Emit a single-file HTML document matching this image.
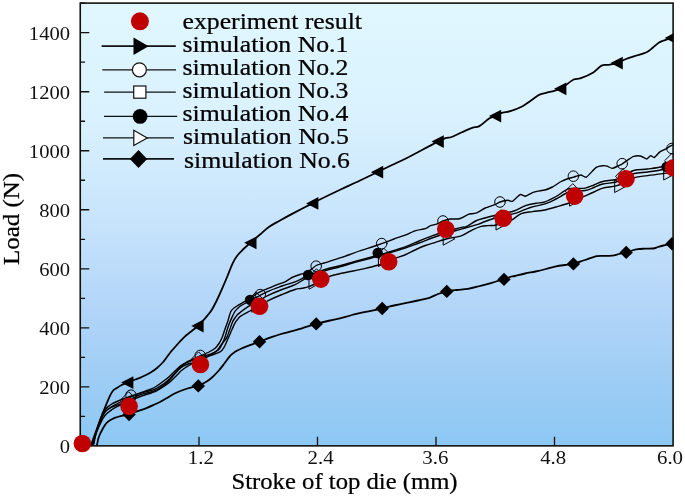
<!DOCTYPE html>
<html lang="en"><head><meta charset="utf-8"><title>Load vs stroke of top die</title>
<style>html,body{margin:0;padding:0;background:#fff}body{width:685px;height:497px;overflow:hidden}svg{display:block;will-change:transform}text{font-family:"Liberation Serif","DejaVu Serif",serif;fill:#000;stroke:#000;stroke-width:0.25px}</style></head><body>
<svg width="685" height="497" viewBox="0 0 685 497">
<defs><linearGradient id="bg" x1="0" y1="0" x2="0" y2="1">
<stop offset="0" stop-color="#e0f7ff"/>
<stop offset="0.253" stop-color="#daf2fe"/>
<stop offset="0.49" stop-color="#c8e4fc"/>
<stop offset="0.704" stop-color="#b0d4f8"/>
<stop offset="0.896" stop-color="#98cbf4"/>
<stop offset="1" stop-color="#8cc8f4"/>
</linearGradient>
<clipPath id="cp"><rect x="80.25" y="3.1" width="593.45" height="445.75"/></clipPath></defs>
<rect width="685" height="497" fill="#fff"/>
<rect x="80.25" y="3.1" width="592.85" height="442.75" fill="url(#bg)"/>
<path d="M80.25,445.85h9.0M80.25,416.34h4.8M80.25,386.83h9.0M80.25,357.32h4.8M80.25,327.81h9.0M80.25,298.30h4.8M80.25,268.79h9.0M80.25,239.28h4.8M80.25,209.77h9.0M80.25,180.26h4.8M80.25,150.75h9.0M80.25,121.24h4.8M80.25,91.73h9.0M80.25,62.22h4.8M80.25,32.71h9.0M80.25,3.20h4.8M199.00,445.85v-9.0M317.50,445.85v-9.0M436.00,445.85v-9.0M554.50,445.85v-9.0" stroke="#111" stroke-width="1.3" fill="none"/>
<g clip-path="url(#cp)" fill="none" stroke="#000" stroke-linejoin="round" stroke-linecap="round">
<path d="M96.9,445.3C97.2,443.8 97.9,439.4 99.0,436.5C100.1,433.6 102.0,430.1 103.3,427.8C104.5,425.6 105.4,424.2 106.5,423.0C107.6,421.8 108.6,421.2 110.0,420.3C111.4,419.4 112.8,418.6 114.7,417.8C116.7,417.1 119.4,416.4 121.7,415.8C124.0,415.2 126.6,414.9 128.7,414.3C130.8,413.7 132.0,413.1 134.0,412.4C136.0,411.7 138.6,411.0 140.8,410.2C143.0,409.4 144.8,408.7 147.0,407.8C149.2,406.9 151.8,405.7 154.0,404.7C156.2,403.7 157.8,403.1 160.0,402.0C162.2,400.9 164.5,399.5 167.0,398.0C169.5,396.5 172.5,394.5 175.2,393.2C177.9,391.9 180.3,391.0 183.0,390.0C185.7,389.0 188.9,388.1 191.5,387.4C194.1,386.7 195.8,386.9 198.3,385.9C200.8,384.9 204.4,382.9 206.7,381.5C209.0,380.1 210.1,379.2 212.0,377.5C213.9,375.8 216.4,373.2 218.4,371.0C220.4,368.8 222.1,366.5 224.0,364.0C225.9,361.5 228.2,357.9 230.1,355.8C232.0,353.7 233.7,352.8 235.5,351.6C237.3,350.4 238.8,349.8 241.0,348.8C243.2,347.8 245.6,346.9 248.7,345.7C251.8,344.5 255.6,343.2 259.5,341.7C263.4,340.2 268.6,338.2 272.2,336.9C275.8,335.6 278.0,334.9 281.0,334.0C284.0,333.1 286.5,332.6 290.0,331.7C293.5,330.8 297.6,329.6 302.0,328.3C306.4,327.0 311.5,325.2 316.2,323.9C320.9,322.6 326.0,321.4 330.0,320.5C334.0,319.6 336.3,319.2 340.0,318.3C343.7,317.4 347.8,316.1 352.0,315.0C356.2,313.9 360.5,313.0 365.5,311.9C370.5,310.8 377.4,309.6 382.2,308.5C386.9,307.4 390.0,306.4 394.0,305.5C398.0,304.6 402.4,303.7 406.4,302.9C410.4,302.1 414.2,301.4 418.0,300.5C421.8,299.6 426.1,298.9 429.4,297.8C432.7,296.7 435.1,295.1 438.0,294.0C440.9,292.9 443.6,292.1 446.8,291.4C450.0,290.7 453.5,290.4 457.0,290.0C460.5,289.6 464.3,289.5 467.8,288.9C471.3,288.3 474.6,287.4 478.0,286.5C481.4,285.6 485.2,284.6 488.2,283.8C491.2,283.0 493.4,282.2 496.0,281.5C498.6,280.8 501.7,280.1 504.0,279.4C506.3,278.6 508.2,277.6 510.0,277.0C511.8,276.4 512.5,276.6 515.0,276.0C517.5,275.4 521.6,274.2 525.0,273.5C528.4,272.8 532.0,272.2 535.5,271.5C539.0,270.8 542.6,269.9 546.0,269.0C549.4,268.1 552.8,267.1 556.0,266.4C559.2,265.7 562.1,265.4 565.0,265.0C567.9,264.6 570.1,264.7 573.4,263.9C576.7,263.1 581.1,261.3 585.0,260.0C588.9,258.7 593.7,256.9 596.9,256.2C600.1,255.5 601.5,255.9 604.0,255.8C606.5,255.7 609.7,256.0 612.2,255.7C614.7,255.4 616.7,254.6 619.0,254.0C621.3,253.4 624.0,253.0 626.2,252.4C628.4,251.8 630.1,251.1 632.0,250.5C633.9,249.9 635.6,249.4 637.8,249.1C640.0,248.8 642.5,248.8 645.0,248.7C647.5,248.6 650.9,248.8 653.1,248.5C655.3,248.2 656.3,247.5 658.0,247.0C659.7,246.5 661.6,245.9 663.3,245.5C665.0,245.1 666.5,244.7 668.0,244.3C669.5,244.0 671.8,243.6 672.5,243.4" stroke-width="1.8"/>
<path d="M91.4,444.2C92.0,442.5 93.8,437.2 95.0,434.0C96.2,430.8 97.2,428.1 98.4,424.9C99.6,421.7 100.7,418.5 102.0,415.0C103.3,411.5 105.3,406.8 106.5,403.9C107.7,400.9 108.3,399.4 109.3,397.3C110.3,395.2 111.4,392.7 112.6,391.2C113.8,389.7 115.0,389.2 116.5,388.2C118.0,387.2 119.9,385.9 121.7,385.0C123.5,384.1 125.4,383.4 127.4,382.6C129.5,381.8 131.8,380.8 134.0,380.0C136.2,379.2 138.4,378.4 140.4,377.6C142.4,376.8 144.2,375.9 146.0,375.0C147.8,374.1 149.2,373.5 151.0,372.3C152.8,371.1 155.1,369.6 157.0,368.0C158.9,366.4 161.0,364.3 162.7,362.5C164.4,360.7 165.5,358.9 167.0,357.0C168.5,355.1 170.0,352.8 171.5,351.0C173.0,349.2 174.5,347.6 176.0,346.0C177.5,344.4 178.6,342.9 180.3,341.1C182.0,339.4 184.1,337.1 186.0,335.5C187.9,333.9 189.3,332.9 191.5,331.2C193.7,329.4 196.8,327.1 199.0,325.0C201.2,322.9 203.0,320.8 205.0,318.5C207.0,316.2 209.1,314.0 211.0,311.1C212.9,308.2 214.7,304.6 216.5,301.0C218.3,297.4 220.1,293.4 221.9,289.2C223.7,285.0 225.7,280.4 227.5,276.0C229.3,271.6 231.3,266.2 232.9,262.9C234.5,259.6 235.5,258.0 237.0,256.0C238.5,254.0 239.4,253.0 241.7,250.8C243.9,248.6 247.4,245.5 250.5,242.8C253.6,240.1 256.9,237.2 260.0,234.5C263.1,231.8 265.9,229.1 269.2,226.8C272.5,224.5 276.1,222.7 280.0,220.5C283.9,218.3 287.2,216.4 292.6,213.6C298.0,210.8 306.7,206.3 312.4,203.4C318.1,200.5 322.0,198.4 327.0,196.0C332.0,193.6 336.7,191.4 342.2,188.8C347.7,186.2 354.2,183.3 360.0,180.5C365.8,177.7 371.9,174.8 377.2,172.2C382.5,169.6 387.1,167.3 392.0,165.0C396.9,162.7 401.4,160.7 406.4,158.2C411.4,155.7 416.8,152.8 422.0,150.0C427.2,147.2 433.9,143.6 437.8,141.6C441.7,139.6 443.2,139.0 445.5,138.2C447.8,137.4 448.9,138.0 451.7,137.0C454.4,136.0 458.6,133.8 462.0,132.3C465.4,130.8 469.3,128.8 472.2,127.8C475.1,126.8 476.6,127.6 479.4,126.1C482.1,124.6 486.1,120.5 488.7,118.8C491.3,117.1 493.1,117.0 495.2,116.1C497.2,115.2 498.3,114.1 501.0,113.2C503.7,112.3 507.8,112.0 511.2,110.9C514.6,109.8 518.1,108.6 521.5,106.8C524.9,105.0 528.9,102.0 531.8,100.0C534.7,98.0 536.6,96.1 539.0,94.9C541.4,93.7 543.5,93.6 546.1,92.9C548.7,92.2 552.0,91.5 554.4,90.8C556.8,90.1 558.5,89.7 560.4,88.8C562.2,87.9 563.3,86.8 565.5,85.3C567.7,83.8 571.1,80.7 573.7,79.5C576.3,78.3 577.6,79.3 580.9,78.1C584.2,76.9 589.9,74.5 593.3,72.4C596.7,70.3 599.0,66.9 601.5,65.6C604.0,64.3 606.1,65.2 608.6,64.8C611.1,64.4 613.9,64.1 616.8,63.1C619.7,62.1 623.0,60.2 626.1,59.0C629.2,57.8 631.9,57.0 635.3,55.9C638.7,54.8 643.7,53.6 646.6,52.2C649.5,50.8 650.7,49.3 652.8,47.7C654.9,46.1 657.0,43.9 659.0,42.6C661.0,41.3 662.9,40.9 665.1,40.1C667.4,39.3 671.3,38.4 672.5,38.0" stroke-width="1.8"/>
<path d="M92.0,444.0C92.4,442.8 95.1,434.7 96.0,432.0C96.9,429.3 100.5,418.9 101.3,416.8C102.1,414.7 103.5,411.9 104.0,411.0C104.5,410.1 105.9,408.5 106.5,407.9C107.1,407.3 109.3,405.8 110.0,405.3C110.7,404.8 112.4,403.6 113.6,403.0C114.8,402.4 120.1,400.1 121.7,399.5C123.3,398.9 128.0,397.2 129.9,396.5C131.8,395.8 138.4,393.5 140.4,392.8C142.4,392.1 148.4,390.1 150.0,389.5C151.6,388.9 154.7,387.3 156.0,386.5C157.3,385.7 161.7,382.5 163.0,381.5C164.3,380.5 168.1,377.6 169.3,376.5C170.5,375.4 173.9,372.1 175.0,371.0C176.1,369.9 179.2,366.9 180.3,366.0C181.4,365.1 184.9,363.1 186.0,362.5C187.1,361.9 190.1,360.6 191.5,360.0C192.9,359.4 198.2,356.8 200.0,356.0C201.8,355.2 207.5,352.8 209.0,352.0C210.5,351.2 214.4,348.9 215.4,348.0C216.4,347.1 218.3,344.5 219.0,343.5C219.7,342.5 221.4,339.2 222.0,337.8C222.6,336.4 224.4,330.7 225.0,329.0C225.6,327.3 227.3,322.6 227.9,320.9C228.5,319.1 230.2,312.8 230.8,311.5C231.4,310.2 233.2,308.6 234.0,308.0C234.8,307.4 237.0,305.9 238.4,305.1C239.8,304.3 245.7,301.1 247.7,299.9C249.7,298.7 256.1,294.1 258.2,292.9C260.3,291.7 266.8,289.0 268.7,288.2C270.6,287.4 275.2,285.4 276.8,284.8C278.4,284.2 283.6,282.5 285.1,281.8C286.6,281.1 290.5,278.2 292.0,277.5C293.5,276.8 298.4,275.0 300.0,274.5C301.6,274.0 305.9,273.2 307.5,272.3C309.1,271.4 314.6,266.4 316.2,265.5C317.8,264.6 322.5,263.5 324.0,263.0C325.5,262.5 330.0,261.2 331.6,260.7C333.2,260.2 338.2,258.5 340.0,257.9C341.8,257.3 347.8,255.3 350.0,254.5C352.2,253.7 359.7,250.9 361.9,250.2C364.1,249.4 370.0,247.7 372.0,247.0C374.0,246.3 379.5,244.4 381.7,243.6C383.9,242.8 391.6,239.9 394.0,239.0C396.4,238.1 403.7,235.6 405.8,234.8C407.9,234.0 413.1,231.4 415.0,230.8C416.9,230.2 423.8,229.2 425.3,228.7C426.8,228.2 429.3,226.2 430.4,225.7C431.5,225.2 435.3,224.6 436.6,224.1C437.9,223.6 441.7,221.5 443.0,221.0C444.3,220.5 448.4,219.2 449.9,219.0C451.4,218.8 456.8,219.2 458.1,219.0C459.4,218.8 461.8,217.8 462.8,217.3C463.8,216.8 467.0,214.8 468.4,214.4C469.8,214.0 474.9,213.4 476.6,212.8C478.3,212.2 483.4,208.8 485.3,208.0C487.2,207.2 494.0,205.0 495.5,204.4C497.0,203.8 498.8,202.4 500.0,202.0C501.2,201.6 506.6,200.4 507.9,200.3C509.1,200.2 511.3,201.9 512.5,201.3C513.7,200.7 518.9,195.1 520.2,194.6C521.5,194.1 524.1,196.4 525.3,196.2C526.5,196.0 531.3,193.1 532.5,192.6C533.7,192.1 535.8,191.7 537.0,191.4C538.2,191.1 543.5,190.4 545.0,190.0C546.5,189.6 550.8,187.8 552.4,187.0C554.0,186.2 559.6,182.3 561.1,181.5C562.6,180.7 565.8,179.4 567.0,179.0C568.2,178.6 572.2,177.5 573.6,177.1C575.0,176.7 579.6,175.0 580.9,175.0C582.2,175.0 584.9,177.9 586.4,177.1C587.9,176.3 594.6,168.4 596.2,167.3C597.9,166.2 601.8,165.8 602.9,165.7C604.0,165.6 606.3,165.9 607.2,166.2C608.1,166.5 611.1,168.4 612.1,168.4C613.1,168.4 616.0,167.0 617.0,166.5C618.0,166.0 621.2,164.4 622.3,163.8C623.3,163.2 626.4,160.9 627.5,160.2C628.6,159.5 632.3,156.8 633.7,156.4C635.1,156.0 639.9,155.9 641.2,156.2C642.5,156.5 645.9,159.1 646.8,159.0C647.7,158.9 649.9,155.8 650.6,155.6C651.4,155.4 653.4,157.9 654.3,157.5C655.2,157.1 658.8,152.7 659.9,151.9C661.0,151.1 664.0,149.9 664.9,149.4C665.8,148.9 668.2,147.3 669.0,146.8C669.8,146.3 672.6,145.0 673.0,144.8" stroke-width="1.4"/>
<path d="M92.6,444.0C93.2,442.0 94.6,436.6 96.1,432.2C97.6,427.8 100.2,421.0 101.6,417.8C103.0,414.5 103.6,413.9 104.5,412.5C105.5,411.2 106.1,410.7 107.2,409.8C108.2,409.0 109.5,408.2 110.7,407.4C111.9,406.7 112.4,406.2 114.4,405.2C116.3,404.2 119.7,402.5 122.3,401.2C124.9,399.9 127.2,398.7 130.2,397.3C133.2,396.0 137.2,394.3 140.6,393.2C143.9,392.1 147.7,391.5 150.4,390.7C153.1,389.9 154.4,389.5 156.6,388.3C158.9,387.2 161.5,385.3 163.8,383.7C166.0,382.1 168.0,380.3 170.0,378.5C171.9,376.6 173.7,374.3 175.5,372.4C177.3,370.5 178.8,368.4 180.6,366.8C182.4,365.3 184.3,364.0 186.2,362.9C188.0,361.9 189.3,361.4 191.7,360.5C194.0,359.5 197.3,358.2 200.4,357.2C203.5,356.1 207.2,355.2 210.1,354.1C213.0,352.9 216.1,351.6 218.0,350.2C219.9,348.8 220.3,347.6 221.4,345.5C222.5,343.4 223.7,340.9 224.8,337.8C225.9,334.7 226.9,330.2 228.0,327.0C229.1,323.8 230.2,321.2 231.4,318.6C232.6,316.0 233.7,313.4 234.9,311.5C236.1,309.6 237.2,308.7 238.5,307.5C239.8,306.3 240.2,306.1 243.0,304.5C245.8,302.9 250.7,300.2 255.0,298.0C259.3,295.8 264.2,293.1 268.7,291.1C273.2,289.1 277.6,287.6 282.0,286.0C286.4,284.4 290.8,283.5 295.0,281.8C299.2,280.1 302.5,278.1 307.5,276.0C312.5,273.9 319.6,271.2 325.0,269.5C330.4,267.8 335.0,267.0 340.0,265.7C345.0,264.4 349.9,262.9 355.0,261.5C360.1,260.1 365.2,258.8 370.7,257.3C376.2,255.8 382.1,254.1 388.0,252.3C393.9,250.5 400.6,248.5 405.8,246.6C411.0,244.7 414.6,242.8 419.0,241.0C423.4,239.2 427.8,237.4 432.0,235.9C436.2,234.4 440.0,233.2 444.0,232.0C448.0,230.8 453.0,229.5 456.1,228.7C459.2,227.9 461.1,227.4 462.8,227.1C464.5,226.8 464.0,227.8 466.3,226.7C468.6,225.6 473.5,221.9 476.6,220.5C479.7,219.1 481.9,218.9 485.0,218.0C488.1,217.1 492.2,216.0 495.5,215.2C498.8,214.4 501.9,213.7 505.0,213.0C508.1,212.3 510.4,212.3 514.0,211.0C517.5,209.7 522.6,206.7 526.3,205.4C530.0,204.1 532.9,203.9 536.0,203.3C539.1,202.7 541.7,202.9 545.0,201.8C548.3,200.7 552.2,198.6 556.0,196.5C559.8,194.4 564.4,190.5 567.7,189.2C571.0,187.9 573.1,188.7 576.0,188.5C578.9,188.3 582.3,188.7 585.3,188.1C588.3,187.5 591.1,186.1 594.0,185.0C596.9,183.9 599.1,182.4 602.8,181.5C606.5,180.6 612.3,180.4 616.0,179.3C619.7,178.2 621.9,176.5 625.0,175.0C628.1,173.5 630.6,171.3 634.4,170.3C638.2,169.3 643.2,169.6 647.6,169.0C652.0,168.4 657.5,167.8 660.7,167.0C663.9,166.2 665.0,165.0 667.0,164.0C669.0,163.0 671.6,161.5 672.5,161.0" stroke-width="1.4"/>
<path d="M93.2,444.0C93.7,442.1 94.8,436.8 96.2,432.5C97.6,428.1 100.3,421.2 101.7,417.9C103.1,414.6 103.6,413.9 104.5,412.5C105.5,411.2 106.1,410.6 107.2,409.8C108.2,409.0 109.6,408.4 110.8,407.7C112.1,407.1 112.6,406.7 114.6,406.0C116.7,405.2 120.3,404.2 123.0,403.1C125.7,402.0 127.9,400.7 130.9,399.3C133.9,397.8 137.6,395.6 141.0,394.4C144.3,393.2 148.2,392.7 150.9,392.0C153.6,391.2 154.9,391.0 157.2,389.8C159.4,388.7 162.1,386.8 164.2,385.0C166.4,383.3 168.4,381.3 170.3,379.3C172.2,377.3 173.9,374.9 175.7,373.0C177.4,371.0 179.0,369.0 180.9,367.6C182.7,366.2 184.8,365.3 186.7,364.5C188.6,363.7 190.0,363.6 192.5,362.8C194.9,362.0 198.3,360.9 201.3,359.6C204.3,358.3 207.8,356.4 210.5,354.8C213.2,353.2 215.9,351.5 217.6,349.9C219.4,348.2 219.4,347.1 220.9,345.1C222.4,343.1 225.2,340.3 226.6,337.8C228.0,335.3 228.6,332.6 229.6,330.0C230.6,327.4 231.6,324.1 232.5,322.0C233.4,319.9 234.3,318.9 235.3,317.5C236.3,316.1 236.3,315.7 238.4,313.9C240.5,312.1 244.4,309.0 247.7,306.9C251.0,304.8 254.5,302.9 258.0,301.0C261.5,299.1 264.7,297.1 268.7,295.2C272.7,293.3 277.6,291.2 282.0,289.5C286.4,287.8 290.8,286.7 295.0,284.7C299.2,282.7 302.5,279.8 307.5,277.5C312.5,275.2 319.6,272.6 325.0,270.8C330.4,269.0 335.0,268.2 340.0,266.8C345.0,265.4 349.9,263.8 355.0,262.4C360.1,261.0 365.2,259.7 370.7,258.2C376.2,256.7 382.1,255.0 388.0,253.3C393.9,251.6 400.6,249.5 405.8,247.8C411.0,246.1 414.6,244.6 419.0,243.0C423.4,241.4 427.8,239.5 432.0,238.0C436.2,236.5 440.0,235.2 444.0,234.0C448.0,232.8 452.0,231.6 456.1,230.5C460.2,229.4 464.6,228.3 468.4,227.2C472.2,226.1 475.9,225.0 478.7,224.1C481.5,223.2 482.2,222.5 485.0,221.5C487.8,220.5 492.2,219.0 495.5,218.0C498.8,217.0 501.6,216.3 505.0,215.5C508.4,214.7 511.8,214.4 516.0,213.1C520.2,211.8 525.6,209.0 530.4,207.5C535.2,206.0 540.7,205.3 545.0,203.9C549.3,202.5 552.2,200.9 556.0,199.0C559.8,197.1 564.4,193.8 567.7,192.5C571.0,191.2 573.1,191.6 576.0,191.3C578.9,191.0 582.3,191.1 585.3,190.5C588.3,189.9 591.1,188.6 594.0,187.5C596.9,186.4 599.1,184.9 602.8,184.0C606.5,183.1 612.3,183.0 616.0,182.0C619.7,181.0 621.9,179.4 625.0,178.0C628.1,176.6 630.6,174.5 634.4,173.5C638.2,172.5 643.2,172.6 647.6,172.0C652.0,171.4 656.6,171.0 660.7,170.0C664.9,169.0 670.5,166.7 672.5,166.0" stroke-width="1.4"/>
<path d="M93.8,444.0C94.2,442.2 94.9,437.0 96.3,433.0C97.8,428.9 100.8,422.7 102.3,419.7C103.8,416.7 104.5,416.2 105.4,415.0C106.4,413.8 107.0,413.3 108.1,412.4C109.1,411.5 110.4,410.7 111.6,409.9C112.8,409.1 113.3,408.6 115.2,407.6C117.1,406.6 120.5,405.0 123.2,403.7C125.8,402.5 128.1,401.4 131.2,400.1C134.2,398.9 138.2,397.2 141.5,396.0C144.9,394.8 148.6,393.9 151.2,393.0C153.9,392.0 155.1,391.6 157.4,390.4C159.6,389.2 162.3,387.4 164.5,385.9C166.8,384.3 168.9,382.8 170.9,381.1C172.9,379.4 174.8,377.3 176.6,375.5C178.4,373.7 180.0,371.8 181.8,370.3C183.6,368.8 185.5,367.5 187.4,366.4C189.2,365.3 190.4,364.7 192.7,363.5C195.0,362.3 198.1,360.6 201.1,359.2C204.1,357.9 207.7,356.7 210.8,355.4C214.0,354.2 217.8,353.2 220.0,351.9C222.2,350.6 222.5,350.0 223.9,347.6C225.3,345.3 227.1,340.7 228.4,337.8C229.7,334.9 230.7,332.4 231.8,330.0C232.9,327.6 234.0,324.9 234.9,323.2C235.8,321.4 236.5,320.7 237.5,319.5C238.5,318.3 238.6,317.6 240.7,316.2C242.8,314.8 246.9,312.7 250.0,311.0C253.1,309.3 255.9,307.8 259.0,306.0C262.1,304.2 264.9,302.3 268.7,300.4C272.5,298.5 277.6,296.3 282.0,294.5C286.4,292.7 291.7,290.5 295.0,289.5C298.3,288.5 299.7,288.8 302.0,288.3C304.3,287.8 306.0,287.6 308.7,286.6C311.4,285.6 314.6,284.2 318.0,282.5C321.4,280.8 325.4,278.0 329.3,276.5C333.2,275.0 337.8,274.2 341.6,273.3C345.4,272.4 348.6,272.0 352.0,271.3C355.4,270.6 359.1,269.8 362.1,269.1C365.1,268.4 367.2,268.0 370.0,267.3C372.8,266.6 375.8,265.9 378.6,265.0C381.4,264.1 384.3,263.1 387.0,262.0C389.7,260.9 391.9,259.8 395.0,258.5C398.1,257.2 402.5,255.9 405.8,254.5C409.1,253.1 411.8,251.5 415.0,250.0C418.2,248.5 421.9,246.8 425.3,245.5C428.7,244.2 431.6,243.5 435.5,242.3C439.4,241.1 444.6,239.4 448.9,238.3C453.2,237.2 457.3,237.3 461.2,235.9C465.1,234.5 469.2,231.4 472.5,229.8C475.8,228.2 478.6,227.1 481.2,226.4C483.8,225.7 485.6,225.8 488.0,225.6C490.4,225.4 493.0,225.6 495.5,225.2C498.0,224.8 500.2,223.9 503.0,223.0C505.8,222.1 509.0,221.4 512.0,219.8C515.0,218.2 517.8,215.0 521.2,213.6C524.6,212.2 528.5,212.2 532.5,211.6C536.5,211.0 541.1,210.8 545.0,210.0C548.9,209.2 552.2,208.1 556.0,207.0C559.8,205.9 564.4,204.7 567.7,203.5C571.0,202.3 573.1,201.3 576.0,200.0C578.9,198.7 582.3,197.1 585.3,195.8C588.3,194.5 591.1,193.3 594.0,192.0C596.9,190.7 599.1,189.1 602.8,188.1C606.5,187.1 612.3,186.9 616.0,185.9C619.7,184.9 621.9,183.4 625.0,182.0C628.1,180.6 630.6,178.7 634.4,177.6C638.2,176.5 642.8,176.3 647.6,175.6C652.4,174.9 659.1,174.1 663.3,173.6C667.4,173.1 671.0,172.5 672.5,172.3" stroke-width="1.4"/>
<path d="M121.1,382.6L133.4,376.2V389.0Z" fill="#000" stroke="none"/>
<path d="M191.3,326.0L203.6,319.6V332.4Z" fill="#000" stroke="none"/>
<path d="M244.2,242.8L256.5,236.4V249.2Z" fill="#000" stroke="none"/>
<path d="M306.1,203.4L318.4,197.0V209.8Z" fill="#000" stroke="none"/>
<path d="M370.9,172.2L383.2,165.8V178.6Z" fill="#000" stroke="none"/>
<path d="M431.5,141.6L443.8,135.2V148.0Z" fill="#000" stroke="none"/>
<path d="M488.9,116.1L501.2,109.7V122.5Z" fill="#000" stroke="none"/>
<path d="M554.1,88.8L566.4,82.4V95.2Z" fill="#000" stroke="none"/>
<path d="M610.5,63.1L622.8,56.7V69.5Z" fill="#000" stroke="none"/>
<path d="M664.7,37.9L677.0,31.5V44.3Z" fill="#000" stroke="none"/>
<path d="M122.4,414.5L129.1,407.8L135.8,414.5L129.1,421.2Z" fill="#000" stroke="none"/>
<path d="M191.6,385.9L198.3,379.2L205.0,385.9L198.3,392.6Z" fill="#000" stroke="none"/>
<path d="M252.8,341.7L259.5,335.0L266.2,341.7L259.5,348.4Z" fill="#000" stroke="none"/>
<path d="M309.5,323.9L316.2,317.2L322.9,323.9L316.2,330.6Z" fill="#000" stroke="none"/>
<path d="M375.5,308.5L382.2,301.8L388.9,308.5L382.2,315.2Z" fill="#000" stroke="none"/>
<path d="M440.1,291.4L446.8,284.7L453.5,291.4L446.8,298.1Z" fill="#000" stroke="none"/>
<path d="M497.3,279.4L504.0,272.7L510.7,279.4L504.0,286.1Z" fill="#000" stroke="none"/>
<path d="M566.7,263.9L573.4,257.2L580.1,263.9L573.4,270.6Z" fill="#000" stroke="none"/>
<path d="M619.5,252.4L626.2,245.7L632.9,252.4L626.2,259.1Z" fill="#000" stroke="none"/>
<path d="M665.3,243.7L672.0,237.0L678.7,243.7L672.0,250.4Z" fill="#000" stroke="none"/>
<circle cx="131" cy="395.2" r="5.3" stroke-width="1"/>
<circle cx="200.3" cy="355.5" r="5.3" stroke-width="1"/>
<circle cx="260.3" cy="294.6" r="5.3" stroke-width="1"/>
<circle cx="316.2" cy="266.2" r="5.3" stroke-width="1"/>
<circle cx="381.7" cy="243.6" r="5.3" stroke-width="1"/>
<circle cx="443" cy="221" r="5.3" stroke-width="1"/>
<circle cx="500" cy="202" r="5.3" stroke-width="1"/>
<circle cx="573.4" cy="176.2" r="5.3" stroke-width="1"/>
<circle cx="622.2" cy="163.7" r="5.3" stroke-width="1"/>
<circle cx="672" cy="148.5" r="5.3" stroke-width="1"/>
<path d="M121.5,398.9L128.7,391.7L135.9,398.9L128.7,406.1Z" stroke-width="1"/>
<path d="M191.4,359.1L198.6,351.9L205.8,359.1L198.6,366.3Z" stroke-width="1"/>
<path d="M248.7,299.2L255.9,292.0L263.1,299.2L255.9,306.4Z" stroke-width="1"/>
<path d="M309.3,276.0L316.5,268.8L323.7,276.0L316.5,283.2Z" stroke-width="1"/>
<path d="M376.7,255.5L383.9,248.3L391.1,255.5L383.9,262.7Z" stroke-width="1"/>
<path d="M438.4,229.4L445.6,222.2L452.8,229.4L445.6,236.6Z" stroke-width="1"/>
<path d="M493.8,216.9L501.0,209.7L508.2,216.9L501.0,224.1Z" stroke-width="1"/>
<path d="M565.5,190.8L572.7,183.6L579.9,190.8L572.7,198.0Z" stroke-width="1"/>
<path d="M615.8,176.0L623.0,168.8L630.2,176.0L623.0,183.2Z" stroke-width="1"/>
<path d="M664.8,160.5L672.0,153.3L679.2,160.5L672.0,167.7Z" stroke-width="1"/>
<circle cx="129" cy="404.5" r="5.2" fill="#000" stroke="none"/>
<circle cx="200" cy="363.5" r="5.2" fill="#000" stroke="none"/>
<circle cx="250" cy="299.9" r="5.2" fill="#000" stroke="none"/>
<circle cx="308.1" cy="275" r="5.2" fill="#000" stroke="none"/>
<circle cx="377.7" cy="253" r="5.2" fill="#000" stroke="none"/>
<circle cx="444.5" cy="229.5" r="5.2" fill="#000" stroke="none"/>
<circle cx="502.5" cy="218" r="5.2" fill="#000" stroke="none"/>
<circle cx="574" cy="196" r="5.2" fill="#000" stroke="none"/>
<circle cx="625.5" cy="178.8" r="5.2" fill="#000" stroke="none"/>
<circle cx="666.5" cy="167" r="5.2" fill="#000" stroke="none"/>
<path d="M124.5,399.3V411.7L135.8,405.5Z" stroke-width="1"/>
<path d="M195.5,357.8V370.2L206.8,364.0Z" stroke-width="1"/>
<path d="M251.8,299.8V312.2L263.1,306.0Z" stroke-width="1"/>
<path d="M309.0,276.8V289.2L320.3,283.0Z" stroke-width="1"/>
<path d="M378.4,254.2V266.6L389.7,260.4Z" stroke-width="1"/>
<path d="M443.2,232.8V245.2L454.5,239.0Z" stroke-width="1"/>
<path d="M496.0,217.6V230.0L507.3,223.8Z" stroke-width="1"/>
<path d="M569.6,193.7V206.1L580.9,199.9Z" stroke-width="1"/>
<path d="M614.7,180.1V192.5L626.0,186.3Z" stroke-width="1"/>
<path d="M663.7,167.6V180.0L675.0,173.8Z" stroke-width="1"/>
</g>
<rect x="80.25" y="3.1" width="592.85" height="442.75" fill="none" stroke="#111" stroke-width="1.6"/>
<clipPath id="cr"><rect x="0" y="0" width="673.85" height="497"/></clipPath>
<g fill="#c00000" clip-path="url(#cr)">
<circle cx="82.4" cy="443.5" r="8.8"/>
<circle cx="129.1" cy="406.3" r="8.8"/>
<circle cx="200.4" cy="364.5" r="8.8"/>
<circle cx="259.5" cy="306.2" r="8.8"/>
<circle cx="320.8" cy="279.1" r="8.8"/>
<circle cx="388.7" cy="261.8" r="8.8"/>
<circle cx="445.8" cy="229.3" r="8.8"/>
<circle cx="503.3" cy="218.3" r="8.8"/>
<circle cx="574.7" cy="196.1" r="8.8"/>
<circle cx="626" cy="178.8" r="8.8"/>
<circle cx="673.5" cy="167.7" r="8.8"/>
</g>
<circle cx="139.9" cy="21.3" r="9" fill="#c00000"/>
<g stroke="#111" fill="none">
<path d="M101.6,46.2H175.8" stroke-width="1.8"/><path d="M133.5,37.6V54.9L148.6,46.2Z" fill="#000" stroke="none"/>
<path d="M102.3,69.8H176" stroke-width="1.2"/><circle cx="139.4" cy="69.8" r="7" fill="#fff" stroke-width="1.2"/>
<path d="M104.1,92.1H175.8" stroke-width="1.2"/><rect x="133.7" y="86" width="12.2" height="12.2" fill="#fff" stroke-width="1.2"/>
<path d="M104,116.4H177.2" stroke-width="1.2"/><circle cx="140.1" cy="116.4" r="7.4" fill="#000" stroke="none"/>
<path d="M103,137.9H174" stroke-width="1.2"/><path d="M133.8,130.3V145.4L147.2,137.9Z" fill="#fff" stroke-width="1.2"/>
<path d="M103,158.9H174" stroke-width="1.8"/><path d="M129.8,158.9L138.5,150.1L147.2,158.9L138.5,167.9Z" fill="#000" stroke="none"/>
</g>
<text transform="translate(182.5,29.0) scale(1.12,1)" font-size="23" text-anchor="start">experiment result</text>
<text transform="translate(182.5,52.0) scale(1.12,1)" font-size="23" text-anchor="start">simulation No.1</text>
<text transform="translate(182.5,74.8) scale(1.12,1)" font-size="23" text-anchor="start">simulation No.2</text>
<text transform="translate(182.5,98.0) scale(1.12,1)" font-size="23" text-anchor="start">simulation No.3</text>
<text transform="translate(182.5,121.1) scale(1.12,1)" font-size="23" text-anchor="start">simulation No.4</text>
<text transform="translate(183.0,144.4) scale(1.12,1)" font-size="23" text-anchor="start">simulation No.5</text>
<text transform="translate(184.0,167.6) scale(1.12,1)" font-size="23" text-anchor="start">simulation No.6</text>
<text transform="translate(70.0,452.95) scale(1.04,1)" font-size="19.8" text-anchor="end" style="stroke:none;fill:#111">0</text>
<text transform="translate(70.0,393.93) scale(1.04,1)" font-size="19.8" text-anchor="end" style="stroke:none;fill:#111">200</text>
<text transform="translate(70.0,334.91) scale(1.04,1)" font-size="19.8" text-anchor="end" style="stroke:none;fill:#111">400</text>
<text transform="translate(70.0,275.89) scale(1.04,1)" font-size="19.8" text-anchor="end" style="stroke:none;fill:#111">600</text>
<text transform="translate(70.0,216.87) scale(1.04,1)" font-size="19.8" text-anchor="end" style="stroke:none;fill:#111">800</text>
<text transform="translate(70.0,157.85) scale(1.04,1)" font-size="19.8" text-anchor="end" style="stroke:none;fill:#111">1000</text>
<text transform="translate(70.0,98.83) scale(1.04,1)" font-size="19.8" text-anchor="end" style="stroke:none;fill:#111">1200</text>
<text transform="translate(70.0,39.81) scale(1.04,1)" font-size="19.8" text-anchor="end" style="stroke:none;fill:#111">1400</text>
<text transform="translate(200.9,463.6) scale(1.055,1)" font-size="19.8" text-anchor="middle" style="stroke:none;fill:#111">1.2</text>
<text transform="translate(320.6,463.6) scale(1.055,1)" font-size="19.8" text-anchor="middle" style="stroke:none;fill:#111">2.4</text>
<text transform="translate(435.4,463.6) scale(1.055,1)" font-size="19.8" text-anchor="middle" style="stroke:none;fill:#111">3.6</text>
<text transform="translate(553.2,463.6) scale(1.055,1)" font-size="19.8" text-anchor="middle" style="stroke:none;fill:#111">4.8</text>
<text transform="translate(670.0,463.6) scale(1.055,1)" font-size="19.8" text-anchor="middle" style="stroke:none;fill:#111">6.0</text>
<text transform="translate(231.5,488.5) scale(1.073,1)" font-size="23" text-anchor="start">Stroke of top die (mm)</text>
<text transform="translate(18.6,265) rotate(-90) scale(1.04,1)" font-size="24">Load (N)</text>
</svg></body></html>
